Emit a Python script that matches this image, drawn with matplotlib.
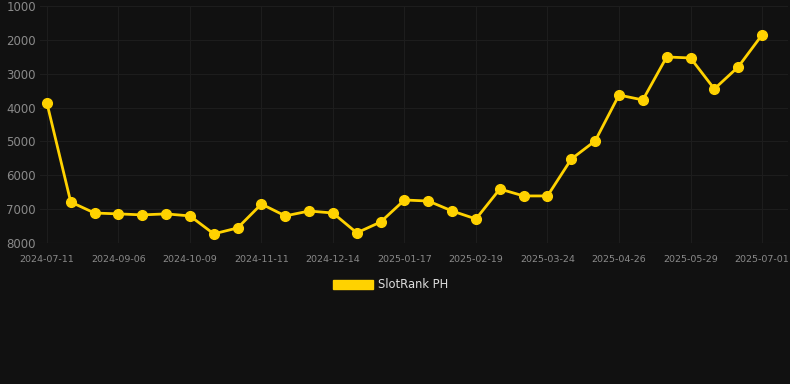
import matplotlib.pyplot as plt
from matplotlib.patches import Patch

tick_labels = ['2024-07-11', '2024-09-06', '2024-10-09', '2024-11-11', '2024-12-14',
               '2025-01-17', '2025-02-19', '2025-03-24', '2025-04-26', '2025-05-29',
               '2025-07-01']
rank = [3865, 6790, 7115, 7140, 7170, 7140, 7200, 7730, 7555, 6850, 7200,
        7055, 7115, 7700, 7380, 6730, 6760, 7055, 7290, 6405, 6610, 6610,
        5520, 4985, 3630, 3775, 2505, 2535, 3450, 2800, 1855]
series_name = 'SlotRank PH'

bg = '#111111'
gold = '#FFD200'

fig = plt.figure(figsize=(7.9, 3.84), dpi=100, facecolor=bg)
ax = fig.add_axes([40 / 790, 1 - 243 / 384, 748 / 790, 237 / 384], facecolor=bg)

x = list(range(len(rank)))
ax.plot(x, rank, color=gold, linewidth=2.0, marker='o', markersize=7, zorder=3)

ax.set_xlim(-0.29, 31.09)
ax.set_ylim(8000, 1000)
ax.set_yticks(range(1000, 8001, 1000))
ax.set_xticks(x[::3])
ax.set_xticklabels(tick_labels)

ax.grid(True, color='#1d1d1d', linewidth=0.8)
for s in ax.spines.values():
    s.set_visible(False)
ax.axhline(8000, color='#2c2c2c', linewidth=0.8)
ax.tick_params(axis='y', length=0, labelsize=8.5, labelcolor='#8a8a8a', pad=3)
ax.tick_params(axis='x', length=0, labelsize=6.8, labelcolor='#8a8a8a', pad=9)

fig.legend(handles=[Patch(facecolor=gold, edgecolor=gold)], labels=[series_name],
           loc='center', bbox_to_anchor=(391 / 790, 1 - 285 / 384), frameon=False,
           handlelength=3.4, handleheight=0.9, fontsize=8.3, labelcolor='#dddddd',
           handletextpad=0.5)

fig.savefig('out.png', dpi=100, facecolor=bg)
